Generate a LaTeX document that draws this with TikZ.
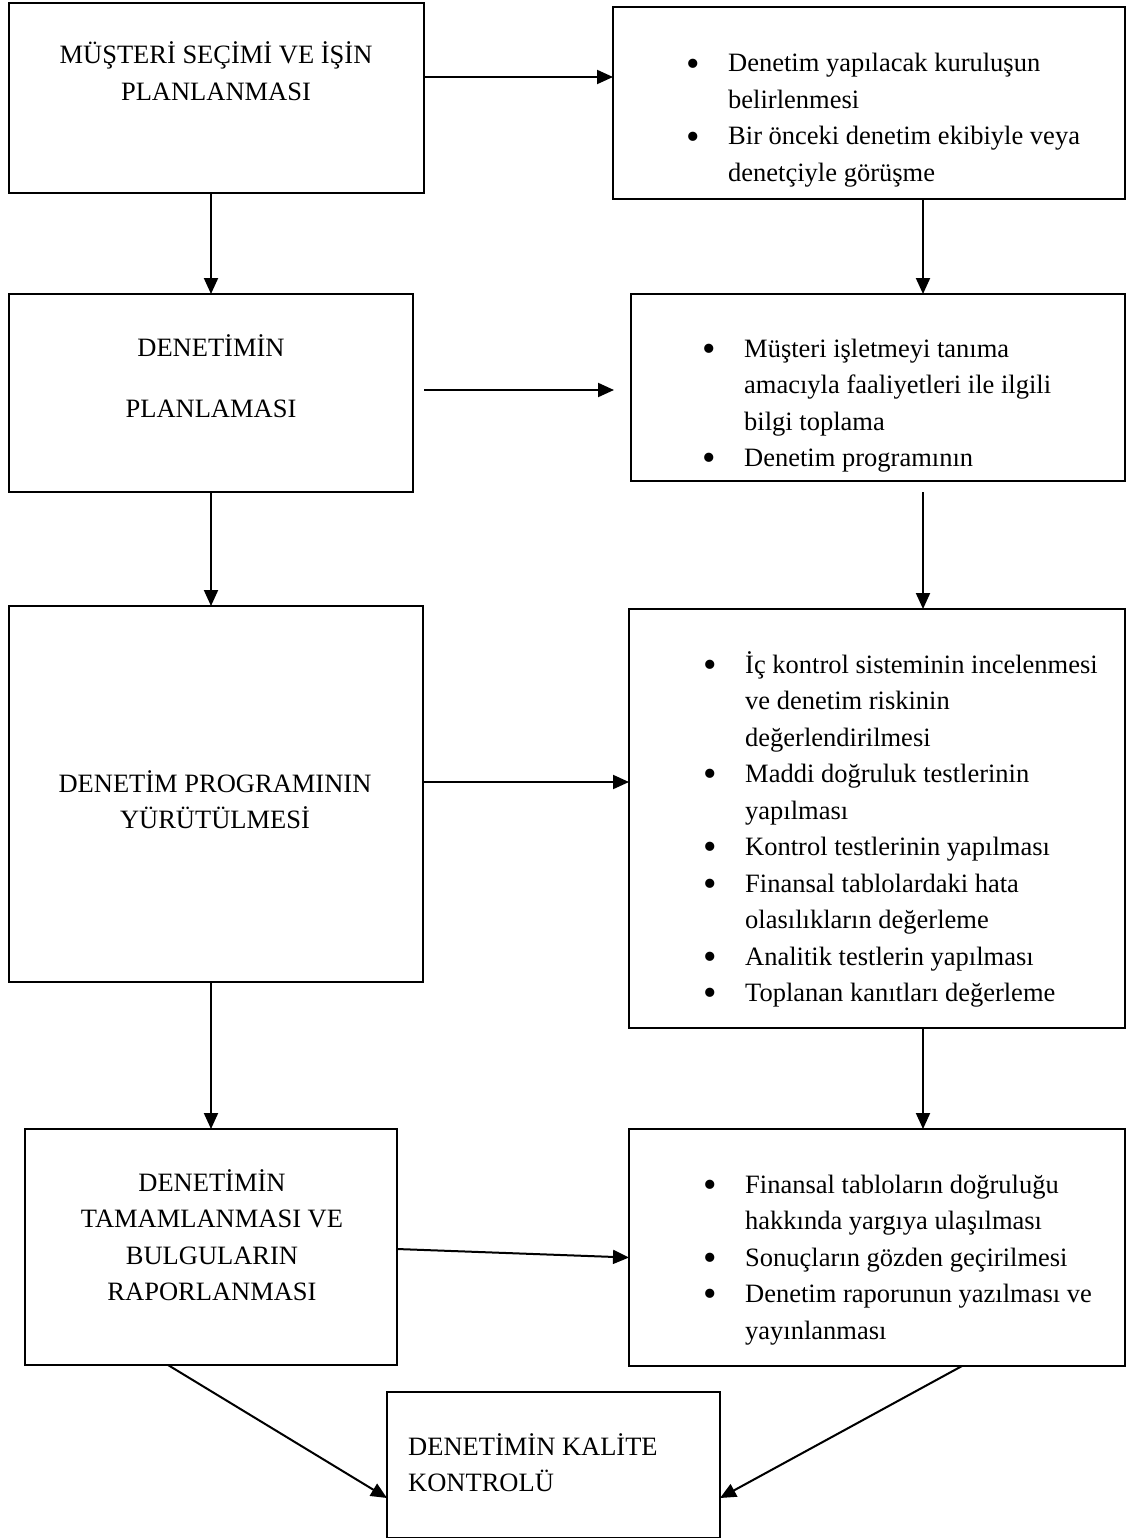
\documentclass[tikz,border=0pt]{standalone}
\usepackage{fontspec}
\setmainfont{Liberation Serif}
\usepackage{graphicx}
\usepackage{tikz}
\usetikzlibrary{arrows.meta,calc}
\newcommand{\stagetext}[1]{\begin{tabular}[t]{@{}c@{}}#1\end{tabular}}
\newcommand{\stageleft}[1]{\begin{tabular}[t]{@{}l@{}}#1\end{tabular}}
\newcommand{\stageitems}[1]{\begin{tabular}[t]{@{}p{42pt}@{}l@{}}#1\end{tabular}}
\newcommand{\bul}{\raisebox{-0.16em}{\scalebox{1.45}{\textbullet}}}
\tikzset{
    every node/.style={font=\fontsize{26.5}{36.5}\selectfont,inner sep=0pt},
    stage/.style={draw,line width=2pt,outer sep=0pt,anchor=north west},
    words/.style={anchor=base},
    items/.style={anchor=base west},
    flow/.style={-{Triangle[length=16pt,width=14pt]},line width=2pt}
}

\begin{document}
\begin{tikzpicture}[x=1pt,y=-1pt]
    \useasboundingbox (0,0) rectangle (1128,1538);
    % boxes
    \node[stage,minimum width=415pt,minimum height=190pt] (secim) at (9,3) {};
    \node[stage,minimum width=512pt,minimum height=192pt] (kurulus) at (613,7) {};
    \node[stage,minimum width=404pt,minimum height=198pt] (plan) at (9,294) {};
    \node[stage,minimum width=494pt,minimum height=187pt] (bilgi) at (631,294) {};
    \node[stage,minimum width=414pt,minimum height=376pt] (prog) at (9,606) {};
    \node[stage,minimum width=496pt,minimum height=419pt] (kontrol) at (629,609) {};
    \node[stage,minimum width=372pt,minimum height=236pt] (rapor) at (25,1129) {};
    \node[stage,minimum width=496pt,minimum height=237pt] (yargi) at (629,1129) {};
    \node[stage,minimum width=333pt,minimum height=146pt] (kalite) at (387,1392) {};

    % texts
    \node[words] (secimtxt) at (216,64) {\stagetext{MÜŞTERİ SEÇİMİ VE İŞİN\\PLANLANMASI}};
    \node[items] (kurulustxt) at (686,72) {\stageitems{
        \bul & Denetim yapılacak kuruluşun\\
             & belirlenmesi\\
        \bul & Bir önceki denetim ekibiyle veya\\
             & denetçiyle görüşme}};
    \node[words] (plantxt) at (211,356) {\stagetext{DENETİMİN\\[24.5pt]PLANLAMASI}};
    \node[items] (bilgitxt) at (702,357) {\stageitems{
        \bul & Müşteri işletmeyi tanıma\\
             & amacıyla faaliyetleri ile ilgili\\
             & bilgi toplama\\
        \bul & Denetim programının}};
    \node[words] (progtxt) at (215,792) {\stagetext{DENETİM PROGRAMININ\\YÜRÜTÜLMESİ}};
    \node[items] (kontroltxt) at (703,673) {\stageitems{
        \bul & İç kontrol sisteminin incelenmesi\\
             & ve denetim riskinin\\
             & değerlendirilmesi\\
        \bul & Maddi doğruluk testlerinin\\
             & yapılması\\
        \bul & Kontrol testlerinin yapılması\\
        \bul & Finansal tablolardaki hata\\
             & olasılıkların değerleme\\
        \bul & Analitik testlerin yapılması\\
        \bul & Toplanan kanıtları değerleme}};
    \node[words] (raportxt) at (212,1191) {\stagetext{DENETİMİN\\TAMAMLANMASI VE\\BULGULARIN\\RAPORLANMASI}};
    \node[items] (yargitxt) at (703,1193) {\stageitems{
        \bul & Finansal tabloların doğruluğu\\
             & hakkında yargıya ulaşılması\\
        \bul & Sonuçların gözden geçirilmesi\\
        \bul & Denetim raporunun yazılması ve\\
             & yayınlanması}};
    \node[items] (kalitetxt) at (408,1455) {\stageleft{DENETİMİN KALİTE\\KONTROLÜ}};

    % arrows
    \coordinate (lx) at (211,0);
    \coordinate (rx) at (923,0);
    \draw[flow] ([yshift=21pt]secim.east) -- ([yshift=21pt]secim.east -| kurulus.west);
    \draw[flow] (secim.south -| lx) -- (plan.north -| lx);
    \draw[flow] (kurulus.south -| rx) -- (bilgi.north -| rx);
    \draw[flow,shorten <=11pt,shorten >=17pt] ([yshift=3pt]plan.east) -- ([yshift=3pt]plan.east -| bilgi.west);
    \draw[flow] (plan.south -| lx) -- (prog.north -| lx);
    \draw[flow,shorten <=11pt] (bilgi.south -| rx) -- (kontrol.north -| rx);
    \draw[flow] ([yshift=12pt]prog.east) -- ([yshift=12pt]prog.east -| kontrol.west);
    \draw[flow] (prog.south -| lx) -- (rapor.north -| lx);
    \draw[flow] (kontrol.south -| rx) -- (yargi.north -| rx);
    \draw[flow] ([yshift=-2pt]rapor.east) -- ([yshift=-10pt]yargi.west);
    \draw[flow] ([xshift=-43pt]rapor.south) -- ([yshift=-33pt]kalite.west);
    \draw[flow] ([xshift=85pt]yargi.south) -- ([yshift=-33pt]kalite.east);
\end{tikzpicture}
\end{document}
